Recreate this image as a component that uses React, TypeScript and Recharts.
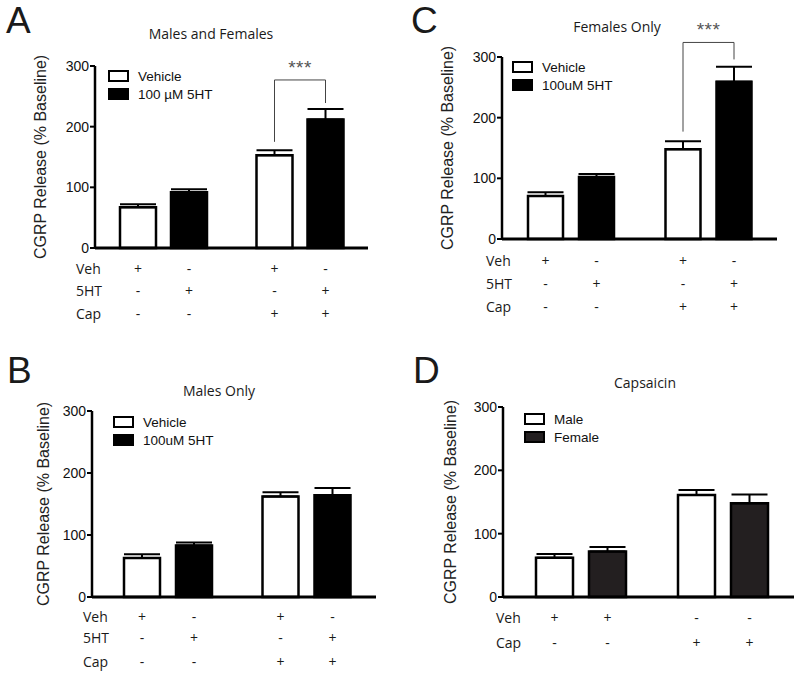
import React from 'react';
import { BarChart, Bar, XAxis, YAxis, ErrorBar, LabelList, Legend } from 'recharts';

const groups = ['Baseline', 'Capsaicin'];
const yTicks = [0, 100, 200, 300];

// A: males and females
const vehicleA = [67, 153];
const serotoninA = [92, 212];
const vehicleErrA = [5, 8];
const serotoninErrA = [5, 17];

// B: males only
const vehicleB = [63, 162];
const serotoninB = [83, 164];
const vehicleErrB = [6, 7];
const serotoninErrB = [5, 12];

// C: females only
const vehicleC = [71, 148];
const serotoninC = [102, 259];
const vehicleErrC = [6, 13];
const serotoninErrC = [5, 25];

// D: capsaicin, male vs female
const maleD = [62, 161];
const femaleD = [72, 148];
const maleErrD = [6, 8];
const femaleErrD = [7, 14];

// treatment rows under the axis, in bar order
const rowNames = ['Veh', '5HT', 'Cap'];
const vehRow = ['+', '-', '+', '-'];
const htRow = ['-', '+', '-', '+'];
const capRow = ['-', '-', '+', '+'];
const rowNamesD = ['Veh', 'Cap'];
const vehRowD = ['+', '+', '-', '-'];
const capRowD = ['-', '-', '+', '+'];

// significance: [left leg bottom, right leg bottom, bracket top, stars]
const sigA = [175, 239, 277, 297];
const sigC = [177, 296, 324, 345];

const ARIAL = '"Liberation Sans", Arial, sans-serif';
const MYRIAD = '"Open Sans", "Noto Sans", sans-serif';

const makeRows = (a: number[], b: number[], ea: number[], eb: number[]) =>
  groups.map((g, i) => ({ group: g, a: a[i], b: b[i], aErr: [0, ea[i]], bErr: [0, eb[i]] }));

const box = (p: any) => {
  const vb = p.viewBox || {};
  return { x: p.x ?? vb.x, y: p.y ?? vb.y, w: p.width ?? vb.width, h: p.height ?? vb.height };
};

const signContent = (s: number, rows: string[][], offsets: number[]) => (p: any) => {
  const { x, y, w, h } = box(p);
  const cx = x + w / 2;
  const base = y + h;
  return (
    <g>
      {rows.map((r, k) => (
        <text key={k} x={cx} y={base + offsets[k]} textAnchor="middle" dominantBaseline="central"
          fontFamily={MYRIAD} fontSize={14} fill="#1a1a1a">
          {r[p.index * 2 + s]}
        </text>
      ))}
    </g>
  );
};

const bracketContent = (sig: number[], step: number) => (p: any) => {
  if (p.index !== 1) return null;
  const { x, y, w, h } = box(p);
  const k = h / Number(p.value);
  const base = y + h;
  const yv = (v: number) => base - v * k;
  const xr = x + w / 2;
  const xl = xr - step;
  return (
    <g>
      <polyline points={`${xl},${yv(sig[0])} ${xl},${yv(sig[2])} ${xr},${yv(sig[2])} ${xr},${yv(sig[1])}`}
        fill="none" stroke="#444" strokeWidth={1} />
      <text x={(xl + xr) / 2} y={yv(sig[3])} textAnchor="middle" dominantBaseline="central"
        fontFamily={ARIAL} fontSize={19} letterSpacing={0.5} fill="#555">***</text>
    </g>
  );
};

const legendContent = (p: any) => {
  const items = [...(p.payload || [])].sort((u: any, v: any) => String(u.dataKey).localeCompare(String(v.dataKey)));
  return (
    <div style={{ fontFamily: ARIAL, fontSize: 13.5, color: '#111' }}>
      {items.map((e: any, i: number) => (
        <div key={i} style={{ display: 'flex', alignItems: 'center', height: 18 }}>
          <span style={{ display: 'inline-block', width: 21, height: 12, boxSizing: 'border-box',
            border: '2.5px solid #000', background: e.color, marginRight: 9 }} />
          <span>{e.value}</span>
        </div>
      ))}
    </div>
  );
};

type PanelProps = {
  left: number; top: number; width: number; height: number;
  margin: { top: number; right: number; bottom: number; left: number };
  padLeft: number; barSize: number; barGap: number; yLabelOffset: number;
  legend: { left: number; top: number };
  data: any[]; names: string[]; fills: string[];
  rows: string[][]; offsets: number[]; sig?: number[];
};

const Panel = (p: PanelProps) => (
  <div style={{ position: 'absolute', left: p.left, top: p.top }}>
    <BarChart width={p.width} height={p.height} data={p.data} margin={p.margin}
      barSize={p.barSize} barGap={p.barGap}>
      <XAxis dataKey="group" tick={false} tickSize={7} height={20} padding={{ left: p.padLeft, right: 0 }}
        axisLine={{ stroke: '#000', strokeWidth: 3 }} tickLine={{ stroke: '#000', strokeWidth: 2.5 }} />
      <YAxis domain={[0, 300]} ticks={yTicks} interval={0} width={60} tickSize={5} tickMargin={1}
        axisLine={{ stroke: '#000', strokeWidth: 2.5 }} tickLine={{ stroke: '#000', strokeWidth: 2 }}
        tick={{ fill: '#111', fontSize: 14, fontFamily: ARIAL }}
        label={{ value: 'CGRP Release (% Baseline)', angle: -90, position: 'insideLeft', offset: p.yLabelOffset,
          style: { textAnchor: 'middle', fill: '#222', fontSize: 16, fontFamily: ARIAL } }} />
      <Legend layout="vertical" align="center" verticalAlign="middle" content={legendContent}
        wrapperStyle={{ left: p.legend.left, top: p.legend.top, width: 'auto', height: 'auto' }} />
      <Bar dataKey="a" name={p.names[0]} fill={p.fills[0]} stroke="#000" strokeWidth={2.5} isAnimationActive={false}>
        <ErrorBar dataKey="aErr" width={18} stroke="#000" strokeWidth={2} direction="y" />
        <LabelList dataKey="a" content={signContent(0, p.rows, p.offsets)} />
      </Bar>
      <Bar dataKey="b" name={p.names[1]} fill={p.fills[1]} stroke="#000" strokeWidth={2.5} isAnimationActive={false}>
        <ErrorBar dataKey="bErr" width={18} stroke="#000" strokeWidth={2} direction="y" />
        <LabelList dataKey="b" content={signContent(1, p.rows, p.offsets)} />
        {p.sig && <LabelList dataKey="b" content={bracketContent(p.sig, p.barSize + p.barGap)} />}
      </Bar>
    </BarChart>
  </div>
);

const letter = { fontFamily: ARIAL, fontSize: 37, fill: '#1a1a1a' };
const title = { fontFamily: MYRIAD, fontSize: 14, fill: '#1a1a1a', textAnchor: 'middle' as const };
const rowText = { fontFamily: MYRIAD, fontSize: 14, fill: '#1a1a1a', dominantBaseline: 'central' as const };

export default function App() {
  return (
    <div style={{ position: 'absolute', left: 0, top: 0, width: 800, height: 674, background: '#fff' }}>
      <Panel left={0} top={0} width={400} height={330}
        margin={{ top: 66, right: 32, bottom: 62, left: 35 }} padLeft={0} barSize={36} barGap={15}
        yLabelOffset={5} legend={{ left: 108, top: 67 }}
        data={makeRows(vehicleA, serotoninA, vehicleErrA, serotoninErrA)}
        names={['Vehicle', '100 µM 5HT']} fills={['#fff', '#000']}
        rows={[vehRow, htRow, capRow]} offsets={[20, 42, 65]} sig={sigA} />
      <Panel left={400} top={0} width={400} height={330}
        margin={{ top: 57, right: 23, bottom: 71, left: 42 }} padLeft={0} barSize={35} barGap={16}
        yLabelOffset={5} legend={{ left: 112, top: 58 }}
        data={makeRows(vehicleC, serotoninC, vehicleErrC, serotoninErrC)}
        names={['Vehicle', '100uM 5HT']} fills={['#fff', '#000']}
        rows={[vehRow, htRow, capRow]} offsets={[21, 44, 67]} sig={sigC} />
      <Panel left={0} top={330} width={400} height={344}
        margin={{ top: 81, right: 24, bottom: 57, left: 32 }} padLeft={7} barSize={36} barGap={16}
        yLabelOffset={11} legend={{ left: 113, top: 83 }}
        data={makeRows(vehicleB, serotoninB, vehicleErrB, serotoninErrB)}
        names={['Vehicle', '100uM 5HT']} fills={['#fff', '#000']}
        rows={[vehRow, htRow, capRow]} offsets={[19, 40, 64]} />
      <Panel left={400} top={330} width={400} height={344}
        margin={{ top: 77, right: 6, bottom: 57, left: 43 }} padLeft={7} barSize={37} barGap={16}
        yLabelOffset={7} legend={{ left: 124, top: 80 }}
        data={makeRows(maleD, femaleD, maleErrD, femaleErrD)}
        names={['Male', 'Female']} fills={['#fff', '#231f20']}
        rows={[vehRowD, capRowD]} offsets={[20, 45]} />
      <svg width={800} height={674} style={{ position: 'absolute', left: 0, top: 0, pointerEvents: 'none' }}>
        <text x={6} y={33} {...letter}>A</text>
        <text x={411} y={33} {...letter}>C</text>
        <text x={7} y={383} {...letter}>B</text>
        <text x={413} y={383} {...letter}>D</text>
        <text x={211} y={39} {...title}>Males and Females</text>
        <text x={617} y={32} {...title}>Females Only</text>
        <text x={219} y={396} {...title}>Males Only</text>
        <text x={645} y={388} {...title}>Capsaicin</text>
        {rowNames.map((n, i) => <text key={'a' + n} x={76} y={[268, 290, 313][i]} {...rowText}>{n}</text>)}
        {rowNames.map((n, i) => <text key={'c' + n} x={486} y={[260, 283, 306][i]} {...rowText}>{n}</text>)}
        {rowNames.map((n, i) => <text key={'b' + n} x={83} y={[616, 637, 661][i]} {...rowText}>{n}</text>)}
        {rowNamesD.map((n, i) => <text key={'d' + n} x={496} y={[617, 642][i]} {...rowText}>{n}</text>)}
      </svg>
    </div>
  );
}
